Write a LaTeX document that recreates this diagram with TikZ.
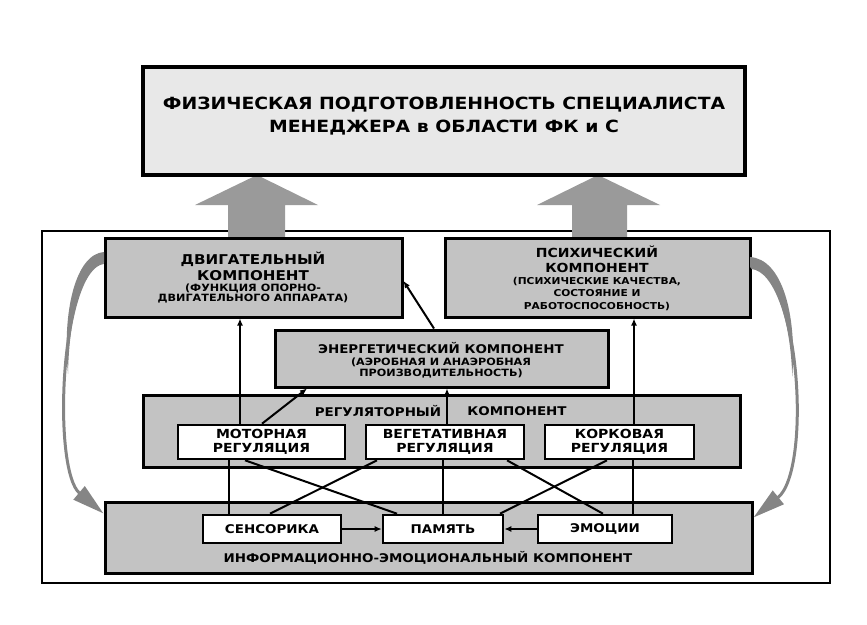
\documentclass[tikz,border=0pt]{standalone}
\usepackage{fontspec}
\setmainfont{DejaVu Sans}[FakeStretch=1.12]
\usetikzlibrary{arrows.meta}
\definecolor{topfill}{HTML}{E8E8E8}
\definecolor{compfill}{HTML}{C3C3C3}
\definecolor{biggray}{HTML}{9A9A9A}
\definecolor{curvegray}{HTML}{858585}
\begin{document}
\begin{tikzpicture}[x=1pt,y=-1pt,
 box/.style={draw, line width=3pt, fill=compfill, inner sep=0pt},
 wbox/.style={draw, line width=2.6pt, fill=white, inner sep=0pt, align=center,
   font=\fontsize{12.5}{14.5}\selectfont\bfseries},
 ibox/.style={wbox, font=\fontsize{12}{14}\selectfont\bfseries},
 lab/.style={font=\fontsize{12}{15}\selectfont\bfseries, align=center, inner sep=0pt},
 biglab/.style={font=\fontsize{13.5}{16}\selectfont\bfseries, align=center, inner sep=0pt},
 sublab/.style={font=\fontsize{10}{11.5}\selectfont\bfseries, align=center, inner sep=0pt},
 conn/.style={line width=2pt, -{Latex[length=7pt,width=6pt]}},
 plainline/.style={line width=2pt},
 curvearrow/.style={draw=curvegray, line width=3pt, -{Triangle[length=32pt,width=17pt]}},
]
\useasboundingbox (0,0) rectangle (867,624);
% outer frame
\node[draw, line width=1.8pt, minimum width=788pt, minimum height=352pt, inner sep=0pt] (frame) at (436,407) {};
% big arrows
\fill[biggray] (228,238) -- (228,205) -- (195,205) -- (257,175) -- (318,205) -- (285,205) -- (285,238) -- cycle;
\fill[biggray] (572,238) -- (572,205) -- (537,205) -- (598,175) -- (660,205) -- (627,205) -- (627,238) -- cycle;
% top box
\node[draw, line width=4pt, fill=topfill, minimum width=602pt, minimum height=108pt, inner sep=0pt] (top) at (444,121) {};
\node[font=\fontsize{16.8}{23}\selectfont\bfseries, align=center, inner sep=0pt] (title) at (444,116.5)
 {ФИЗИЧЕСКАЯ ПОДГОТОВЛЕННОСТЬ СПЕЦИАЛИСТА\\МЕНЕДЖЕРА в ОБЛАСТИ ФК и С};
% component boxes
\node[box, minimum width=297pt, minimum height=79pt] (dv) at (253.5,277.5) {};
\node[box, minimum width=305pt, minimum height=79pt] (ps) at (597.5,277.5) {};
\node[box, minimum width=333pt, minimum height=57pt] (en) at (441.5,358.5) {};
\node[box, minimum width=597pt, minimum height=72pt] (reg) at (441.5,431) {};
\node[box, minimum width=647pt, minimum height=71pt] (info) at (428.5,537.5) {};
% inner boxes
\node[wbox, minimum width=167pt, minimum height=34pt] (mot) at (261.5,442) {МОТОРНАЯ\\РЕГУЛЯЦИЯ};
\node[wbox, minimum width=158pt, minimum height=34pt] (veg) at (445,442) {ВЕГЕТАТИВНАЯ\\РЕГУЛЯЦИЯ};
\node[wbox, minimum width=149pt, minimum height=34pt] (kor) at (619.5,442) {КОРКОВАЯ\\РЕГУЛЯЦИЯ};
\node[ibox, minimum width=138pt, minimum height=28pt] (sen) at (272,529) {СЕНСОРИКА};
\node[ibox, minimum width=120pt, minimum height=28pt] (pam) at (443,529) {ПАМЯТЬ};
\node[ibox, minimum width=134pt, minimum height=28pt] (emo) at (605,529) {ЭМОЦИИ};
% texts
\node[biglab] (dvt) at (253,266.5) {ДВИГАТЕЛЬНЫЙ\\[-0.5pt]КОМПОНЕНТ};
\node[sublab] (dvs) at (253,293.5) {(ФУНКЦИЯ ОПОРНО-\\[-1.5pt]ДВИГАТЕЛЬНОГО АППАРАТА)};
\node[biglab, font=\fontsize{12.5}{15}\selectfont\bfseries] (pst) at (597,259.5) {ПСИХИЧЕСКИЙ\\КОМПОНЕНТ};
\node[sublab, font=\fontsize{9.5}{12.5}\selectfont\bfseries] (pss) at (597,294) {(ПСИХИЧЕСКИЕ КАЧЕСТВА,\\СОСТОЯНИЕ И\\РАБОТОСПОСОБНОСТЬ)};
\node[lab] (ent) at (441,348) {ЭНЕРГЕТИЧЕСКИЙ КОМПОНЕНТ};
\node[sublab] (ens) at (441,368) {(АЭРОБНАЯ И АНАЭРОБНАЯ\\ПРОИЗВОДИТЕЛЬНОСТЬ)};
\node[lab] (regt1) at (378,411) {РЕГУЛЯТОРНЫЙ};
\node[lab] (regt2) at (517,411) {КОМПОНЕНТ};
\node[lab] (infot) at (428,558) {ИНФОРМАЦИОННО-ЭМОЦИОНАЛЬНЫЙ КОМПОНЕНТ};
% upper connectors
\draw[conn] ([xshift=-21.5pt]mot.north) -- ([xshift=-21.5pt]mot.north |- dv.south);
\draw[conn] ([xshift=0.5pt]mot.north) -- ([xshift=-134.5pt]en.south);
\draw[conn] ([xshift=2pt]veg.north) -- ([xshift=2pt]veg.north |- en.south);
\draw[conn] ([xshift=14.5pt]kor.north) -- ([xshift=14.5pt]kor.north |- ps.south);
\draw[conn] ([xshift=-7.5pt]en.north) -- ([yshift=-3.5pt]dv.east);
% lower connectors
\draw[plainline] ([xshift=-43pt]sen.north) -- ([xshift=-43pt]sen.north |- mot.south);
\draw[plainline] ([xshift=-2pt]sen.north) -- ([xshift=-68pt]veg.south);
\draw[plainline] ([xshift=-16.5pt]mot.south) -- ([xshift=-46pt]pam.north);
\draw[plainline] (pam.north) -- (pam.north |- veg.south);
\draw[plainline] ([xshift=62pt]veg.south) -- ([xshift=-2pt]emo.north);
\draw[plainline] ([xshift=-12.5pt]kor.south) -- ([xshift=57pt]pam.north);
\draw[plainline] ([xshift=28pt]emo.north) -- ([xshift=28pt]emo.north |- kor.south);
\draw[conn] (sen.east) -- (pam.west);
\draw[conn] (emo.west) -- (pam.east);
% curved feedback arrows
\draw[curvearrow] ([yshift=15pt]dv.west) .. controls (60,268) and (52,470) .. ([yshift=24pt]info.west);
\fill[curvegray] (104,252) .. controls (76,254) and (62,310) .. (68,373.75)
  .. controls (69,317.1) and (82,265.25) .. (104,262.5) -- cycle;
\draw[curvearrow] ([yshift=10pt]ps.east) .. controls (800,272) and (812,470) .. ([yshift=20pt]info.east);
\fill[curvegray] (750,257) .. controls (782,259) and (797,314) .. (792.25,376.4)
  .. controls (790.5,320.4) and (775,269.75) .. (750,267.5) -- cycle;
\end{tikzpicture}
\end{document}
